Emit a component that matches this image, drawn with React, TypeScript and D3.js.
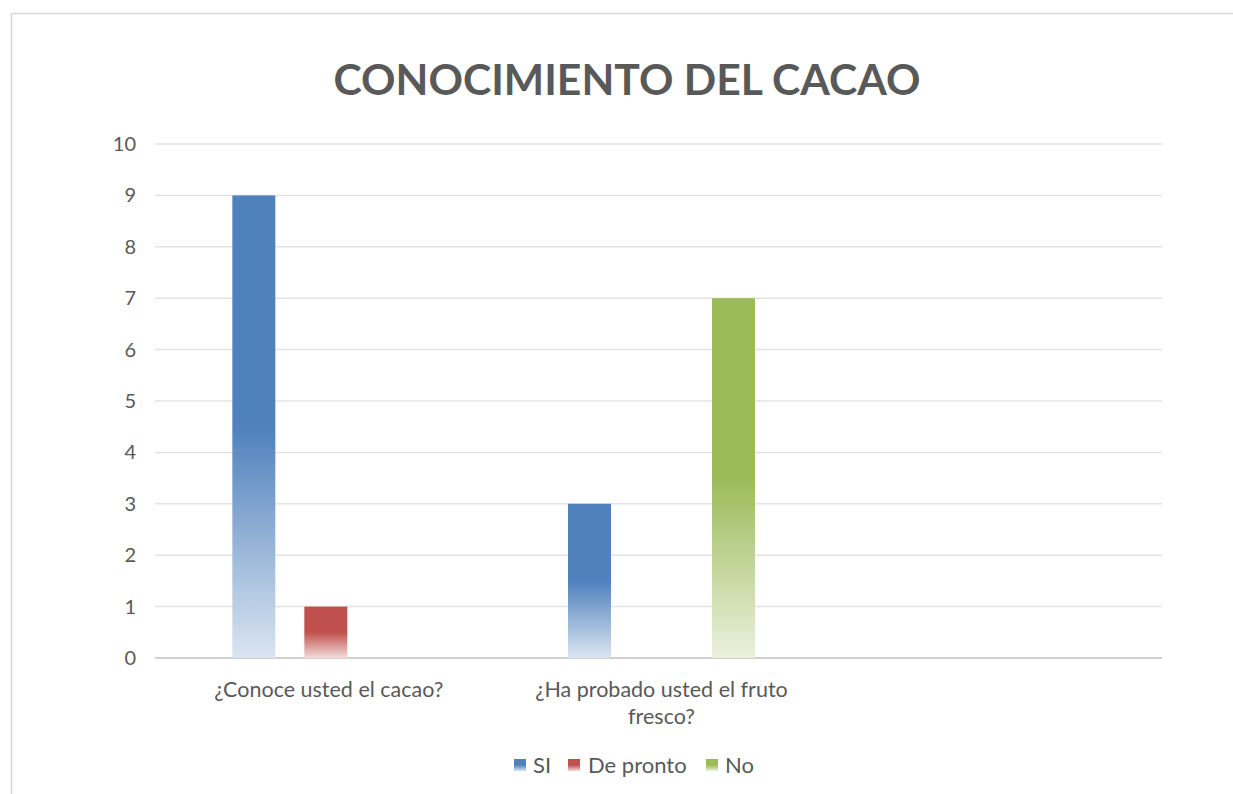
import React from "react";
import * as d3 from "d3";

const categories = ["¿Conoce usted el cacao?", "¿Ha probado usted el fruto fresco?", ""];
const categoryLines = [["¿Conoce usted el cacao?"], ["¿Ha probado usted el fruto", "fresco?"], []];
const seriesNames = ["SI", "De pronto", "No"];
const siValues = [9, 3, null];
const deProntoValues = [1, null, null];
const noValues = [null, 7, null];
const yTicks = [0, 1, 2, 3, 4, 5, 6, 7, 8, 9, 10];
const colors = ["#4f81bd", "#c0504d", "#9bbb59"];
const lightColors = ["#dbe5f1", "#f2dcdb", "#ebf1de"];

const FONT = "Lato, 'Open Sans', sans-serif";

export default function App() {
  const W = 1233, H = 794;
  const left = 155, right = 1162, top = 144, bottom = 658;
  const y = d3.scaleLinear().domain([0, 10]).range([bottom, top]);
  const x0 = d3.scaleBand<string>().domain(categories.map((c, i) => String(i))).range([left, right]);
  const barW = 43, step = 72;
  const series = [siValues, deProntoValues, noValues];

  return (
    <svg width={W} height={H} style={{ position: "absolute", left: 0, top: 0, background: "#fff" }}>
      <defs>
        {colors.map((c, i) => (
          <linearGradient key={i} id={`g${i}`} x1="0" y1="0" x2="0" y2="1">
            <stop offset="0" stopColor={c} />
            <stop offset="0.5" stopColor={c} />
            <stop offset="1" stopColor={lightColors[i]} />
          </linearGradient>
        ))}
      </defs>
      <rect x={11.5} y={13.5} width={W} height={H} fill="#fff" stroke="#d9d9d9" strokeWidth={1.5} />
      <text x={627} y={95} textAnchor="middle" fontFamily={FONT} fontWeight="bold" fontSize={42}
        fill="#595959" textLength={587} lengthAdjust="spacingAndGlyphs">CONOCIMIENTO DEL CACAO</text>
      {yTicks.map((t) => (
        <g key={t}>
          <line x1={left} x2={right} y1={y(t)} y2={y(t)} stroke={t === 0 ? "#d0d0d0" : "#e3e3e3"} strokeWidth={t === 0 ? 2 : 1.5} />
          <text x={136} y={y(t) + 7} textAnchor="end" fontFamily={FONT} fontSize={20} fill="#595959">{t}</text>
        </g>
      ))}
      {categories.map((c, ci) => {
        const bx = x0(String(ci))!;
        const center = bx + x0.bandwidth() / 2 + 3;
        return (
          <g key={ci}>
            {series.map((s, si) => {
              const v = s[ci];
              if (v == null) return null;
              const xPos = center + (si - 1) * step - barW / 2;
              return <rect key={si} x={xPos} y={y(v)} width={barW} height={y(0) - y(v)} fill={`url(#g${si})`} />;
            })}
            {categoryLines[ci].map((ln, li) => (
              <text key={li} x={center + (ci === 0 ? 3 : 0)} y={697 + li * 27} textAnchor="middle" fontFamily={FONT} fontSize={21.5} fill="#595959">{ln}</text>
            ))}
          </g>
        );
      })}
      {[
        { x: 514, tx: 533 },
        { x: 568, tx: 588 },
        { x: 706, tx: 725 },
      ].map((p, i) => (
        <g key={i}>
          <rect x={p.x} y={759} width={12} height={12} fill={`url(#g${i})`} />
          <text x={p.tx} y={773} fontFamily={FONT} fontSize={22} fill="#595959">{seriesNames[i]}</text>
        </g>
      ))}
    </svg>
  );
}
